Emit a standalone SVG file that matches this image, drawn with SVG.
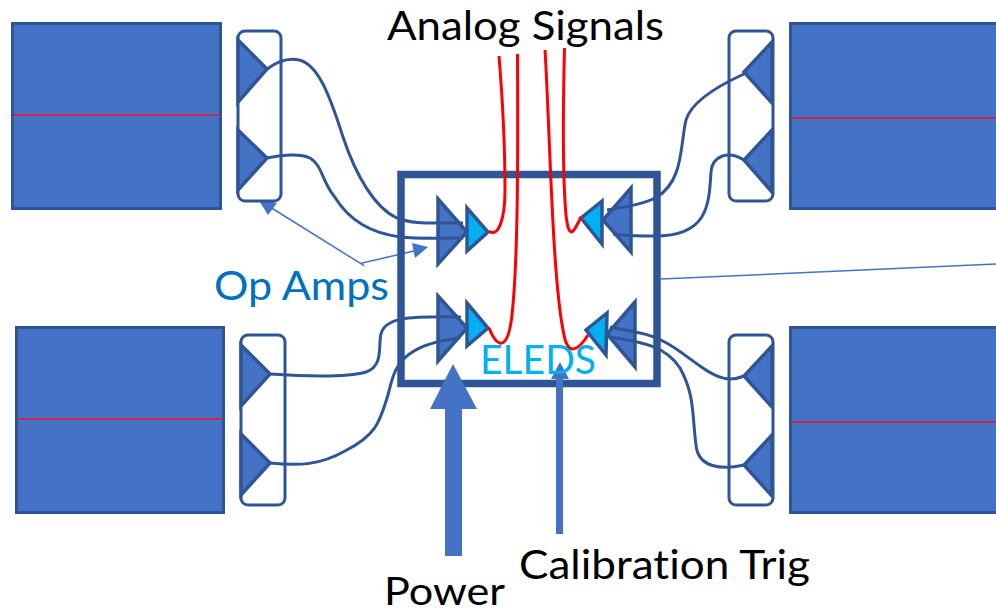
<svg xmlns="http://www.w3.org/2000/svg" width="996" height="613" viewBox="0 0 996 613">
<style>
.det{fill:#4472c4;stroke:#2f5597;stroke-width:3}
.red{fill:none;stroke:#ee1030;stroke-width:1.6}
.pill{fill:#fff;stroke:#2f5597;stroke-width:3}
.amp{fill:#4472c4;stroke:#2f5597;stroke-width:3.500;stroke-linejoin:miter}
.led{fill:#00b0f0;stroke:#2f5597;stroke-width:3.500}
.wire{fill:none;stroke:#2f5597;stroke-width:3}
.sig{fill:none;stroke:#ff0000;stroke-width:3}
.thin{fill:none;stroke:#4472c4;stroke-width:1.500}
.head{fill:#4472c4}
text{font-family:"Lato","Liberation Sans",sans-serif;font-size:40px;font-variant-ligatures:none}
</style>
<g id="detector-tl"><rect class="det" x="12.500" y="23.500" width="208" height="185"/><line class="red" x1="14" y1="115" x2="219" y2="115"/></g>
<g id="detector-bl"><rect class="det" x="16.500" y="327.500" width="207" height="185"/><line class="red" x1="18" y1="419" x2="222" y2="419"/></g>
<g id="detector-tr"><rect class="det" x="790.500" y="23.500" width="208" height="185"/><line class="red" x1="792" y1="118" x2="996" y2="118"/></g>
<g id="detector-br"><rect class="det" x="790.500" y="327.500" width="208" height="185"/><line class="red" x1="792" y1="422" x2="996" y2="422"/></g>

<g id="opamps-callout">
<polygon class="head" points="258,199 277,203 268,215"/>
<polygon class="head" points="428,247 412,243 415,258"/>
<polyline class="thin" points="270,207 363,265 362,263 414,251"/>
</g>

<g id="pill-tl"><rect class="pill" x="238" y="31" width="43" height="170" rx="7"/><polygon class="amp" points="238,40 267,69 238,102"/><polygon class="amp" points="238,130 267,158 238,190"/></g>
<g id="pill-bl"><rect class="pill" x="241" y="335" width="44" height="170" rx="7"/><polygon class="amp" points="241,345 270,374 241,406"/><polygon class="amp" points="241,434 270,463 241,495"/></g>
<g id="pill-tr"><rect class="pill" x="729" y="31" width="44" height="170" rx="7"/><polygon class="amp" points="772,42 744,72 772,103"/><polygon class="amp" points="772,130 744,160 772,192"/></g>
<g id="pill-br"><rect class="pill" x="729" y="335" width="44" height="170" rx="7"/><polygon class="amp" points="772,346 744,376 772,407"/><polygon class="amp" points="772,435 744,465 772,496"/></g>

<g id="eleds"><rect x="401" y="174.500" width="256" height="209" fill="none" stroke="#2f5597" stroke-width="7.500"/></g>
<g id="amp-tl"><polygon class="amp" points="438,199 467,232 438,264"/><polygon class="led" points="467,208 488,232 467,251"/></g>
<g id="amp-bl"><polygon class="amp" points="438,296 467,328 438,361"/><polygon class="led" points="467,303 488,328 467,346"/></g>
<g id="amp-tr"><polygon class="amp" points="631,188 603,220 631,252"/><polygon class="led" points="602,201 581,218 602,244"/></g>
<g id="amp-br"><polygon class="amp" points="635,302 607,334 635,367"/><polygon class="led" points="607,313 586,330 606,355"/></g>

<g id="connectors">
<path class="wire" d="M267,69C278,61 290,58 299,60C318,64 330,96 343,137C356,176 375,208 397,218C412,224 425,223 463,223"/>
<path class="wire" d="M267,158C280,155 300,153 310,158C322,165 322,181 334,196C350,222 372,233 400,237C420,239 440,238 463,238"/>
<path class="wire" d="M270,374C300,376 345,378 366,372C384,366 378,345 381,334C385,318 405,316 461,317"/>
<path class="wire" d="M270,463C300,466 320,465 345,451C378,434 380,420 388,395C394,372 396,345 460,338"/>
<path class="wire" d="M744,74C722,84 692,100 686,120C680,145 684,180 657,197C645,204 625,207 607,210"/>
<path class="wire" d="M744,160C728,150 712,156 711,172C709,205 708,236 655,236C640,236 625,236 613,234"/>
<path class="wire" d="M744,376C730,382 718,379 700,366C680,352 665,338 640,333C630,331 620,329 610,327"/>
<path class="wire" d="M744,465C722,470 698,468 696,445C692,415 695,395 680,368C665,345 640,342 610,337"/>
<path class="sig" d="M499,56C503,105 505,150 505,190C505,220 498,238 489,231"/>
<path class="sig" d="M517.500,54C518,160 518,260 512,315C508,350 498,350 489,328"/>
<path class="sig" d="M545,50C550,130 552,280 564,335C568,356 578,351 588,335"/>
<path class="sig" d="M564.500,48C563,110 562,170 566,215C569,242 574,232 581,217"/>
<line class="thin" x1="661" y1="279" x2="996" y2="264"/>
<polygon class="head" points="453,364 477,409 462,409 462,556 445,556 445,409 430,409"/>
<polygon class="head" points="560,362 569,379 563,379 563,534 556,534 556,379 551,379"/>
</g>

<g id="labels">
<text x="387" y="40" textLength="277" lengthAdjust="spacingAndGlyphs">Analog Signals</text>
<text x="214" y="300" textLength="175" lengthAdjust="spacingAndGlyphs" fill="#0070c0">Op Amps</text>
<text x="480" y="374" textLength="116" lengthAdjust="spacingAndGlyphs" fill="#00b0f0">ELEDS</text>
<text x="519" y="579" textLength="291" lengthAdjust="spacingAndGlyphs">Calibration Trig</text>
<text x="384" y="605" textLength="121" lengthAdjust="spacingAndGlyphs" style="font-size:38px">Power</text>
</g>
</svg>
